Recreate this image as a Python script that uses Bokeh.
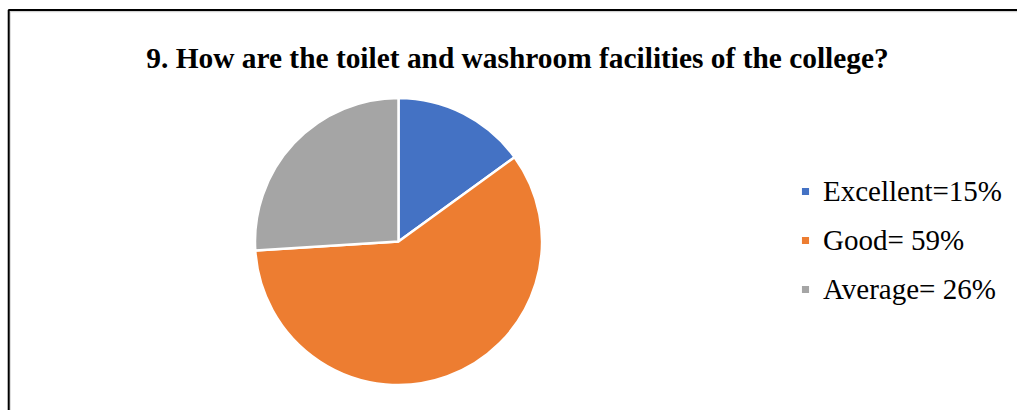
import numpy as np
import pandas as pd
from bokeh.plotting import figure
from bokeh.models import Range1d, Label, Legend, LegendItem, BoxAnnotation, ColumnDataSource
from bokeh.embed import file_html
from bokeh.resources import INLINE

# ---- data ----
categories = ["Excellent", "Good", "Average"]
values = [15, 59, 26]
legend_labels = ["Excellent=15%", "Good= 59%", "Average= 26%"]
colors = ["#4472C4", "#ED7D31", "#A5A5A5"]
title_text = "9. How are the toilet and washroom facilities of the college?"

W, H = 1017, 410

df = pd.DataFrame({"cat": categories, "val": values, "label": legend_labels, "color": colors})
frac = df["val"] / df["val"].sum() * 2 * np.pi
cum = frac.cumsum()
df["start"] = np.pi / 2 - (cum - frac)
df["end"] = np.pi / 2 - cum
src = ColumnDataSource(df)

p = figure(width=W, height=H, output_backend="svg", toolbar_location=None,
           x_range=Range1d(0, W), y_range=Range1d(0, H),
           x_axis_location=None, y_axis_location=None, min_border=0,
           outline_line_color=None, background_fill_color="white")
p.grid.visible = False

cx, cy, r = 398, 169, 143.5
wedges = p.wedge(x=cx, y=cy, radius=r, radius_units="screen",
                 start_angle="start", end_angle="end", direction="clock",
                 fill_color="color", line_color="white", line_width=2.5, source=src)

# chart border (left and top visible; right and bottom are cropped in the reference)
p.add_layout(BoxAnnotation(left=9.6, top=H - 11.2, right=W + 20, bottom=-20,
                           fill_alpha=0, line_color="#c8c8c8", line_alpha=1, line_width=1))
p.add_layout(BoxAnnotation(left=8.2, top=H - 9.6, right=W + 20, bottom=-20,
                           fill_alpha=0, line_color="black", line_alpha=1, line_width=2))

p.add_layout(Label(x=517, y=H - 57, text=title_text, text_align="center",
                   text_baseline="alphabetic", text_font="Liberation Serif",
                   text_font_style="bold", text_font_size="29.4px", text_color="black"))

items = [LegendItem(label=lab, renderers=[wedges], index=i) for i, lab in enumerate(legend_labels)]
legend = Legend(items=items, location=(799, 104), orientation="vertical",
                glyph_width=12, glyph_height=12, label_standoff=12,
                label_text_font="Liberation Serif", label_text_font_size="29px",
                label_text_color="black", label_height=34, spacing=15,
                padding=0, margin=0, border_line_color=None, background_fill_alpha=0)
p.add_layout(legend)

open("out.html", "w").write(file_html(p, INLINE))
